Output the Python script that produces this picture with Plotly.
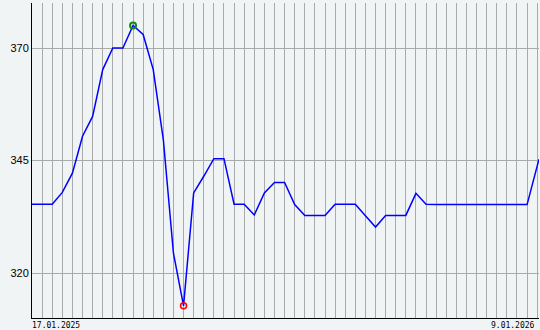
import plotly.graph_objects as go

# weekly positions (gridline index) and values
weeks = list(range(50)) + [50.18]
values = [
    335.3, 335.3, 335.3, 337.9, 342.2, 350.4, 354.8, 365.2, 370.0, 370.0,
    375.0, 373.0, 365.2, 349.6, 324.4, 312.7, 337.8, 341.5, 345.4, 345.4,
    335.3, 335.3, 332.9, 337.8, 340.1, 340.1, 335.2, 332.8, 332.8, 332.8,
    335.3, 335.3, 335.3, 332.7, 330.2, 332.8, 332.8, 332.8, 337.7, 335.3,
    335.2, 335.2, 335.2, 335.2, 335.2, 335.2, 335.2, 335.2, 335.2, 335.2,
    345.3,
]
y_ticks = [320, 345, 370]
start_label = "17.01.2025"
end_label = "9.01.2026"

imax = max(range(len(values)), key=lambda i: values[i])
imin = min(range(len(values)), key=lambda i: values[i])

bg = "#f1f4f5"
fig = go.Figure()
fig.add_trace(go.Scatter(x=weeks, y=values, mode="lines",
                         line=dict(color="#0000ff", width=1.5),
                         hoverinfo="skip"))
fig.add_trace(go.Scatter(x=[weeks[imax]], y=[values[imax]], mode="markers",
                         marker=dict(symbol="circle-open", size=6, color="#108a10",
                                     line=dict(color="#108a10", width=2)),
                         hoverinfo="skip"))
fig.add_trace(go.Scatter(x=[weeks[imin]], y=[values[imin]], mode="markers",
                         marker=dict(symbol="circle-open", size=6, color="#ff0000",
                                     line=dict(color="#ff0000", width=1.5)),
                         hoverinfo="skip"))

fig.update_layout(
    width=540, height=330,
    margin=dict(l=32, r=1, t=3, b=12),
    paper_bgcolor=bg, plot_bgcolor=bg,
    showlegend=False,
    xaxis=dict(range=[0, weeks[-1]], tick0=0, dtick=1,
               showgrid=True, gridcolor="#aaaaaa", gridwidth=1,
               showticklabels=False, ticks="", zeroline=False,
               showline=True, linecolor="#000000", linewidth=1),
    yaxis=dict(range=[310, 380], tickvals=y_ticks,
               ticktext=[str(v) for v in y_ticks],
               showgrid=True, gridcolor="#aaaaaa", gridwidth=1,
               ticks="", zeroline=False,
               showline=True, linecolor="#000000", linewidth=1,
               tickfont=dict(family="Liberation Sans", size=11, color="#000000")),
    annotations=[
        dict(text=start_label, xref="paper", yref="paper", x=0, y=0,
             xanchor="left", yanchor="top", showarrow=False, yshift=-1, xshift=-2,
             font=dict(family="DejaVu Sans Mono", size=8, color="#000000")),
        dict(text=end_label, xref="x", yref="paper", x=50, y=0,
             xanchor="right", yanchor="top", showarrow=False, yshift=-1,
             font=dict(family="DejaVu Sans Mono", size=8, color="#000000")),
    ],
)

fig.write_html("out.html")
